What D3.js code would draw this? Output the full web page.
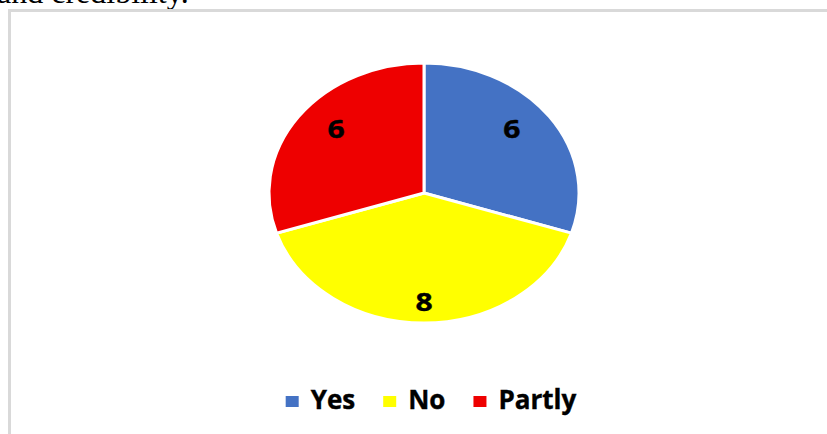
<!DOCTYPE html>
<html>
<head>
<meta charset="utf-8">
<script src="https://cdn.jsdelivr.net/npm/d3@7"></script>
<style>
  html, body { margin: 0; padding: 0; background: #fff; overflow: hidden; }
  svg { display: block; }
</style>
</head>
<body>
<svg id="chart" width="827" height="434"></svg>
<script>
// Survey answers and their counts
const categories = ["Yes", "No", "Partly"];
const counts = [6, 8, 6];
const colors = ["#4472C4", "#FFFF00", "#EE0000"];

const W = 827, H = 434;
const svg = d3.select("#chart");

// Trailing line of the surrounding paragraph
svg.append("text")
  .attr("x", -3).attr("y", 3)
  .attr("font-family", "Liberation Serif, serif")
  .attr("font-size", 32)
  .attr("fill", "#000")
  .text("and credibility.");

// Chart frame
svg.append("rect")
  .attr("x", 9.5).attr("y", 10.5)
  .attr("width", 900).attr("height", 600)
  .attr("fill", "none")
  .attr("stroke", "#d9d9d9")
  .attr("stroke-width", 3);

// Pie geometry (drawn slightly wider than tall)
const cx = 424, cy = 193;
const ry = 130, rx = 155;
const sx = rx / ry;

const pie = d3.pie().sort(null).value(d => d)(counts);
const arc = d3.arc().innerRadius(0).outerRadius(ry);
const labelArc = d3.arc().innerRadius(ry * 0.835).outerRadius(ry * 0.835);

const color = d3.scaleOrdinal().domain(categories).range(colors);

const pieG = svg.append("g")
  .attr("transform", `translate(${cx},${cy}) scale(${sx},1)`);

pieG.selectAll("path")
  .data(pie)
  .join("path")
  .attr("d", arc)
  .attr("fill", (d, i) => color(categories[i]))
  .attr("stroke", "#fff")
  .attr("stroke-width", 3)
  .attr("vector-effect", "non-scaling-stroke");

// Value labels
const labelG = svg.append("g").attr("transform", `translate(${cx},${cy})`);
labelG.selectAll("text")
  .data(pie)
  .join("text")
  .attr("transform", d => {
    const [x, y] = labelArc.centroid(d);
    return `translate(${x},${y}) scale(1.2,1)`;
  })
  .attr("text-anchor", "middle")
  .attr("dy", "0.36em")
  .attr("font-family", "Open Sans, sans-serif")
  .attr("font-weight", "bold")
  .attr("font-size", 25)
  .attr("stroke", "#000")
  .attr("stroke-width", 0.4)
  .attr("fill", "#000")
  .text(d => d.data);

// Legend
const legend = svg.append("g");
const legendY = 409;
const items = legend.selectAll("g")
  .data(categories)
  .join("g");

items.append("rect")
  .attr("width", 13).attr("height", 11)
  .attr("y", legendY - 13)
  .attr("fill", d => color(d));

items.append("text")
  .attr("x", 25)
  .attr("y", legendY)
  .attr("font-family", "Open Sans, sans-serif")
  .attr("font-weight", "bold")
  .attr("font-size", 26)
  .attr("stroke", "#000")
  .attr("stroke-width", 0.4)
  .attr("fill", "#000")
  .text(d => d);

// Lay the legend items out in a row and centre it
let offset = 0;
const gap = 28;
items.each(function () {
  const g = d3.select(this);
  g.attr("transform", `translate(${offset},0)`);
  const tw = g.select("text").node().getComputedTextLength();
  offset += 25 + tw + gap;
});
const totalW = offset - gap;
legend.attr("transform", `translate(${431 - totalW / 2},0)`);
</script>
</body>
</html>
